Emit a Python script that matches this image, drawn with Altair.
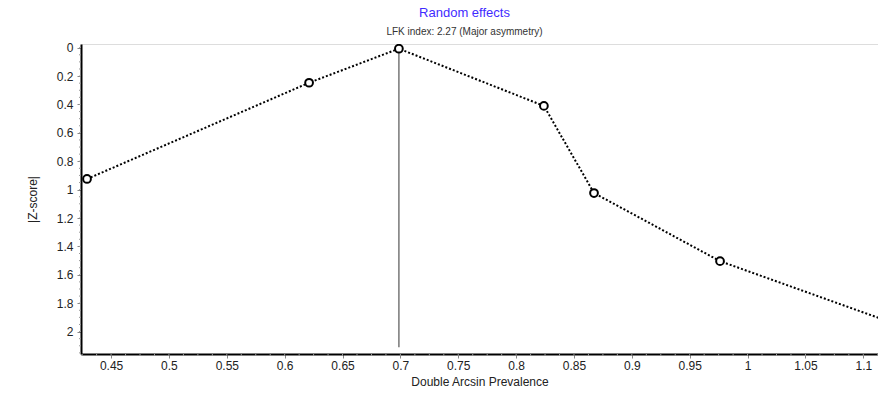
import altair as alt
import pandas as pd

# Doi plot points (Double Arcsin Prevalence vs |Z-score|)
prevalence = [0.4292, 0.6211, 0.6987, 0.8240, 0.8673, 0.9762, 1.1600]
zscore = [0.925, 0.247, 0.007, 0.410, 1.024, 1.504, 2.040]
show_point = [True, True, True, True, True, True, False]

ref_x = [0.6987, 0.6987]
ref_y = [0.0, 2.11]

x_ticks = [0.45, 0.5, 0.55, 0.6, 0.65, 0.7, 0.75, 0.8, 0.85, 0.9, 0.95, 1.0, 1.05, 1.1]
y_ticks = [0, 0.2, 0.4, 0.6, 0.8, 1, 1.2, 1.4, 1.6, 1.8, 2]
x_minor = [round(0.425 + 0.0125 * i, 4) for i in range(56)]
y_minor = [round(0.05 * i, 2) for i in range(44)]

X_DOM = [0.424, 1.1127]
Y_DOM = [-0.026, 2.158]

df = pd.DataFrame({"x": prevalence, "y": zscore, "show": show_point})
ref = pd.DataFrame({"x": ref_x, "y": ref_y})
xm = pd.DataFrame({"x": [v for v in x_minor if X_DOM[0] <= v <= X_DOM[1]]})
ym = pd.DataFrame({"y": [v for v in y_minor if Y_DOM[0] <= v <= Y_DOM[1]]})

W, H = 797, 310
FONT = "Liberation Sans"

xs = alt.Scale(domain=X_DOM, nice=False, zero=False)
ys = alt.Scale(domain=Y_DOM, reverse=True, nice=False, zero=False)

x_axis = alt.Axis(
    title="Double Arcsin Prevalence", values=x_ticks, grid=False, format="~g",
    domainColor="black", domainWidth=2, tickColor="#888", tickSize=4,
    labelFont=FONT, labelFontSize=12, labelColor="#222", labelPadding=2,
    titleFont=FONT, titleFontSize=12, titleFontWeight="normal", titleColor="#222",
    titlePadding=5, labelFlush=False, labelOverlap=False,
)
y_axis = alt.Axis(
    title="|Z-score|", values=y_ticks, grid=False, format="~g",
    domainColor="black", domainWidth=2, tickColor="#888", tickSize=4,
    labelFont=FONT, labelFontSize=12, labelColor="#222", labelPadding=4,
    titleFont=FONT, titleFontSize=12, titleFontWeight="normal", titleColor="#222",
    titlePadding=17, labelFlush=False, labelOverlap=False,
)

def X():
    return alt.X("x:Q", scale=xs, axis=x_axis)

def Y():
    return alt.Y("y:Q", scale=ys, axis=y_axis)

line = alt.Chart(df).mark_line(
    color="black", strokeWidth=2, strokeDash=[2, 2], clip=True
).encode(x=X(), y=Y(), order="x:Q")

refline = alt.Chart(ref).mark_line(color="#777", strokeWidth=1.5).encode(x=X(), y=Y())

points = alt.Chart(df).transform_filter("datum.show").mark_point(
    shape="circle", filled=True, fill="white", stroke="black", strokeWidth=2,
    size=60, opacity=1, clip=True
).encode(x=X(), y=Y())

xminor = alt.Chart(xm).mark_rule(color="#999", strokeWidth=1).encode(
    x=X(), y=alt.value(H), y2=alt.value(H + 2)
)

yminor = alt.Chart(ym).mark_rule(color="#999", strokeWidth=1).encode(
    y=Y(), x=alt.value(-2), x2=alt.value(0)
)

chart = alt.layer(xminor, yminor, refline, line, points).properties(
    width=W, height=H,
    title=alt.TitleParams(
        text="Random effects",
        subtitle="LFK index: 2.27 (Major asymmetry)",
        font=FONT, fontSize=13, fontWeight="normal", color="#3f2bff",
        subtitleFont=FONT, subtitleFontSize=10, subtitleColor="#333",
        subtitlePadding=7, anchor="middle", dx=-15, offset=5,
    ),
    autosize=alt.AutoSizeParams(type="none"),
    padding={"left": 81, "top": 44, "right": 0, "bottom": 44},
).configure_view(stroke=None).configure(background="white")

chart.save("out.html", embed_options={"renderer": "svg", "actions": False})
